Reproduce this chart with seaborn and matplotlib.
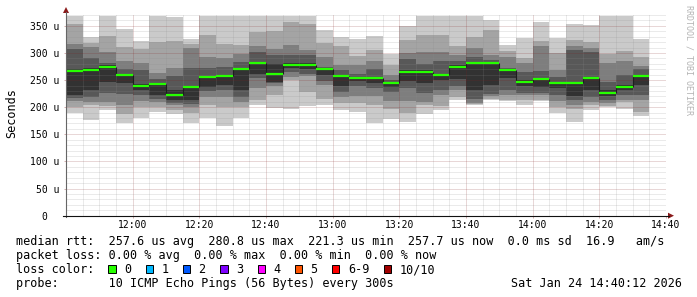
import numpy as np
import pandas as pd
import matplotlib
matplotlib.use("Agg")
import matplotlib.pyplot as plt
import seaborn as sns
from matplotlib.lines import Line2D
from matplotlib.patches import Rectangle, Polygon
from matplotlib.transforms import blended_transform_factory

# ---------------- data (microseconds), 5-minute steps 11:40 .. 14:35 ----------------
slots = list(range(35))
p1 = [190, 176, 195, 170, 180, 191, 187, 170, 180, 166, 180, 205, 198, 196, 202, 204, 195, 192,
      171, 178, 172, 188, 195, 214, 204, 213, 211, 205, 212, 190, 172, 195, 200, 196, 183]
p2 = [200, 205, 203, 188, 200, 200, 195, 190, 205, 200, 200, 214, 222, 250, 228, 215, 208, 208,
      205, 197, 190, 205, 202, 218, 206, 215, 214, 213, 214, 201, 196, 205, 203, 210, 192]
p3 = [211, 210, 210, 205, 212, 210, 204, 200, 219, 218, 210, 236, 240, 255, 257, 241, 219, 220,
      220, 212, 212, 210, 222, 232, 207, 220, 222, 222, 222, 212, 205, 210, 208, 213, 214]
p4 = [217, 218, 226, 225, 222, 216, 208, 206, 230, 232, 218, 253, 244, 265, 262, 248, 228, 240,
      235, 228, 235, 226, 232, 240, 215, 225, 232, 226, 226, 222, 213, 218, 213, 222, 222]
p5 = [223, 231, 246, 244, 231, 223, 214, 213, 238, 241, 232, 262, 246, 272, 270, 260, 239, 248,
      245, 238, 249, 244, 251, 252, 232, 241, 253, 240, 237, 236, 221, 232, 220, 232, 241]
p6 = [270, 272, 277, 262, 242, 245, 232, 240, 257, 260, 273, 284, 280, 281, 281, 272, 260, 256,
      256, 246, 268, 268, 262, 277, 284, 284, 270, 250, 254, 247, 247, 255, 232, 241, 260]
p7 = [307, 290, 281, 270, 268, 252, 258, 273, 272, 275, 283, 301, 296, 296, 296, 274, 268, 262,
      270, 250, 288, 280, 285, 285, 292, 287, 272, 264, 267, 256, 305, 302, 247, 260, 270]
p8 = [316, 311, 301, 285, 281, 263, 272, 309, 293, 290, 299, 313, 307, 314, 305, 293, 278, 278,
      286, 260, 300, 302, 302, 296, 310, 296, 293, 281, 312, 269, 312, 310, 282, 285, 276]
p9 = [353, 318, 331, 311, 308, 320, 322, 317, 333, 317, 314, 339, 340, 357, 353, 319, 313, 295,
      306, 277, 323, 334, 333, 312, 330, 342, 304, 290, 322, 300, 323, 321, 299, 303, 292]
p10 = [368, 330, 368, 345, 322, 368, 366, 325, 368, 368, 368, 369, 369, 369, 369, 342, 329, 326,
       331, 298, 349, 369, 369, 369, 369, 360, 314, 327, 357, 327, 354, 351, 368, 369, 326]
median = [267, 269, 275, 260, 239, 243, 222, 238, 255, 258, 270, 281, 262, 278, 278, 271, 257, 254,
          253, 244, 264, 265, 259, 274, 281, 281, 268, 247, 252, 245, 245, 253, 227, 238, 257]

ytick_values = [0, 50, 100, 150, 200, 250, 300, 350]
ytick_labels = ["0", "50 u", "100 u", "150 u", "200 u", "250 u", "300 u", "350 u"]
xtick_slots = [4, 8, 12, 16, 20, 24, 28, 32, 36]
xtick_labels = ["12:00", "12:20", "12:40", "13:00", "13:20", "13:40", "14:00", "14:20", "14:40"]

line1 = "median rtt:  257.6 us avg  280.8 us max  221.3 us min  257.7 us now  0.0 ms sd  16.9   am/s"
line2 = "packet loss: 0.00 % avg  0.00 % max  0.00 % min  0.00 % now"
line3 = "loss color:"
line4 = "probe:       10 ICMP Echo Pings (56 Bytes) every 300s"
date_text = "Sat Jan 24 14:40:12 2026"
loss_labels = ["0", "1", "2", "3", "4", "5", "6-9", "10/10"]
loss_colors = ["#26ff00", "#00b8ff", "#0059ff", "#7e00ff", "#ff00ff", "#ff5500", "#ff0000", "#a10000"]

# ---------------- layout ----------------
W, H, DPI = 697, 297, 100
PL, PR, PT, PB = 66, 666, 15, 215.7
plt.rcParams['font.family'] = ['DejaVu Sans Mono']

fig = plt.figure(figsize=(W / DPI, H / DPI), dpi=DPI, facecolor='white')
ax = fig.add_axes([PL / W, 1 - PB / H, (PR - PL) / W, (PB - PT) / H])
ax.set_facecolor('white')


def fx(x):
    return x / W


def fy(y):
    return 1 - y / H


df = pd.DataFrame({'slot': slots, 'p1': p1, 'p2': p2, 'p3': p3, 'p4': p4, 'p5': p5,
                   'p6': p6, 'p7': p7, 'p8': p8, 'p9': p9, 'p10': p10, 'median': median})

layers = [('p10', '#cacaca'), ('p9', '#a4a4a4'), ('p8', '#7e7e7e'), ('p7', '#585858'),
          ('p6', '#323232'), ('p5', '#585858'), ('p4', '#7e7e7e'), ('p3', '#a4a4a4'),
          ('p2', '#cacaca'), ('p1', '#ffffff')]
for col, c in layers:
    sns.barplot(data=df, x='slot', y=col, color=c, width=1.0, saturation=1,
                errorbar=None, linewidth=0, antialiased=False, ax=ax)

s = np.array(slots, dtype=float)
m = np.array(median, dtype=float)
ax.vlines(s[:-1] + 0.5, m[:-1], m[1:], colors='#1e1e1e', linewidth=0.8, zorder=4)
ax.hlines(m, s - 0.5, s + 0.5, colors='#26ff00', linewidth=1.6, zorder=5)

ax.set_xlim(-0.5, 35.5)
ax.set_ylim(0, 370)
ax.set_xlabel('')
ax.set_ylabel('')
ax.set_xticks([t - 0.5 for t in xtick_slots])
ax.set_xticklabels(xtick_labels)
ax.set_xticks(np.arange(0.5, 35, 1.0), minor=True)
ax.set_yticks(ytick_values)
ax.set_yticks(np.arange(0, 371, 10), minor=True)
ax.set_axisbelow(False)
ax.grid(which='minor', color='#8c8c8c', alpha=0.35, linestyle=(0, (1, 1)), linewidth=0.72)
ax.grid(which='major', color='#821e1e', alpha=0.35, linestyle=(0, (1, 1)), linewidth=0.72)
ax.tick_params(which='major', length=1.44, width=0.72, color='#d3b0b0', labelsize=7)
ax.tick_params(which='minor', length=0)
ax.tick_params(axis='x', pad=1.6)
ax.tick_params(axis='y', labelleft=False)
for sp in ax.spines.values():
    sp.set_visible(False)

# y tick labels
trans = blended_transform_factory(fig.transFigure, ax.transData)
for v, lab in zip(ytick_values, ytick_labels):
    xr = 59.3 if lab != "0" else 46.9
    ax.text(fx(xr), v, lab, transform=trans, ha='right', va='center_baseline', fontsize=7)

# axes lines and arrows
fig.add_artist(Line2D([fx(66), fx(66)], [fy(217), fy(12)], color='#666666', lw=0.8))
fig.add_artist(Line2D([fx(63), fx(669)], [fy(PB), fy(PB)], color='#111111', lw=0.8))
fig.add_artist(Polygon([(fx(66), fy(7)), (fx(63), fy(13)), (fx(69), fy(13))],
                       closed=True, color='#8b1a1a', lw=0))
fig.add_artist(Polygon([(fx(674), fy(PB)), (fx(668), fy(PB - 3)), (fx(668), fy(PB + 3))],
                       closed=True, color='#8b1a1a', lw=0))

# side texts
fig.text(fx(12), fy(113), "Seconds", rotation=90, ha='center', va='center', fontsize=8.5)
fig.text(fx(689), fy(5), "RRDTOOL / TOBI OETIKER", rotation=270, ha='center', va='top',
         fontsize=6, color='#b4b4b4')

# legend text
fs = 8.5
fig.text(fx(16), fy(245.5), line1, ha='left', va='baseline', fontsize=fs)
fig.text(fx(16), fy(259.3), line2, ha='left', va='baseline', fontsize=fs)
fig.text(fx(16), fy(273.2), line3, ha='left', va='baseline', fontsize=fs)
fig.text(fx(16), fy(287.0), line4, ha='left', va='baseline', fontsize=fs)
fig.text(fx(511), fy(287.0), date_text, ha='left', va='baseline', fontsize=fs)

char_w = 7.11
sx = 108.3
for lab, col in zip(loss_labels, loss_colors):
    fig.add_artist(Rectangle((fx(sx), fy(272.6)), 7.3 / W, 7.3 / H, facecolor=col,
                             edgecolor='black', lw=0.7))
    fig.text(fx(sx + 15.7), fy(273.2), lab, ha='left', va='baseline', fontsize=fs)
    sx = sx + 15.7 + len(lab) * char_w + 14.5

fig.savefig('out.png', dpi=DPI, facecolor='white')
